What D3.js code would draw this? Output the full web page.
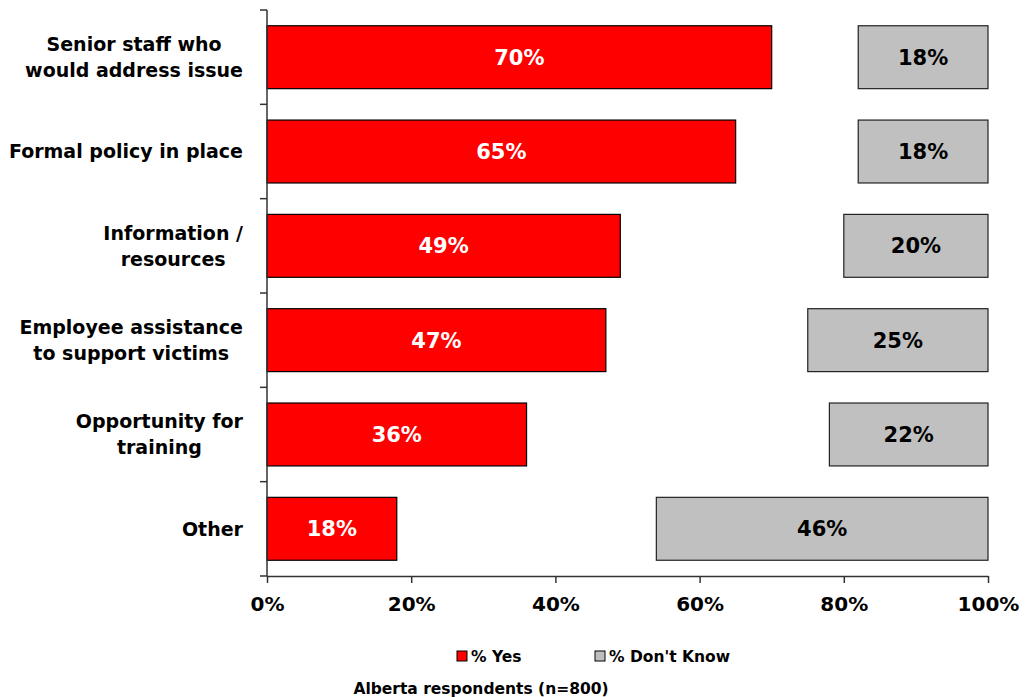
<!DOCTYPE html>
<html><head><meta charset="utf-8">
<script src="https://cdn.jsdelivr.net/npm/d3@7"></script>
<style>body{margin:0;background:#fff;}svg{display:block;}</style>
</head><body>
<svg id="c" width="1025" height="697"></svg>
<script>
const categories = [["Senior staff who","would address issue"],["Formal policy in place"],["Information /","resources"],["Employee assistance","to support victims"],["Opportunity for","training"],["Other"]];
const yesValues = [70, 65, 49, 47, 36, 18];
const dkValues = [18, 18, 20, 25, 22, 46];
const xTicks = [0, 20, 40, 60, 80, 100];
const seriesNames = ["% Yes", "% Don't Know"];
const note = "Alberta respondents (n=800)";

const font = "'DejaVu Sans', Verdana, sans-serif";
const svg = d3.select("#c");
const x = d3.scaleLinear().domain([0,100]).range([267,988]);
const y = d3.scaleBand().domain(d3.range(categories.length)).range([10,576]).paddingInner(0.333).paddingOuter(0.167);

// bars
const g = svg.append("g");
g.selectAll("rect.yes").data(yesValues).join("rect")
  .attr("x", x(0)).attr("y",(d,i)=>y(i)).attr("width",d=>x(d)-x(0)).attr("height",y.bandwidth())
  .attr("fill","#ff0000").attr("stroke","#000").attr("stroke-width",1.2);
g.selectAll("rect.dk").data(dkValues).join("rect")
  .attr("x", d=>x(100-d)).attr("y",(d,i)=>y(i)).attr("width",d=>x(100)-x(100-d)).attr("height",y.bandwidth())
  .attr("fill","#c0c0c0").attr("stroke","#222").attr("stroke-width",1.2);

g.selectAll("text.yl").data(yesValues).join("text")
  .attr("x",d=>(x(0)+x(d))/2).attr("y",(d,i)=>y(i)+y.bandwidth()/2).attr("dy","0.36em")
  .attr("text-anchor","middle").attr("fill","#fff").attr("font-family",font).attr("font-weight","bold").attr("font-size",21)
  .text(d=>d+"%");
g.selectAll("text.dl").data(dkValues).join("text")
  .attr("x",d=>(x(100-d)+x(100))/2).attr("y",(d,i)=>y(i)+y.bandwidth()/2).attr("dy","0.36em")
  .attr("text-anchor","middle").attr("fill","#000").attr("font-family",font).attr("font-weight","bold").attr("font-size",21)
  .text(d=>d+"%");

// y axis
const axCol = "#333";
svg.append("line").attr("x1",267).attr("x2",267).attr("y1",10).attr("y2",576).attr("stroke",axCol).attr("stroke-width",1.5);
d3.range(categories.length+1).forEach(i=>{
  const yy = 10 + i*(566/categories.length);
  svg.append("line").attr("x1",260).attr("x2",267).attr("y1",yy).attr("y2",yy).attr("stroke",axCol).attr("stroke-width",1.5);
});
// category labels: each block centred, block right edge at 243
categories.forEach((lines,i)=>{
  const cy = y(i)+y.bandwidth()/2;
  const t = svg.append("text").attr("text-anchor","middle").attr("font-family",font).attr("font-weight","bold").attr("font-size",19).attr("fill","#000");
  const lh = 26;
  const spans = lines.map((l,j)=>t.append("tspan").attr("y",cy + (j-(lines.length-1)/2)*lh).attr("dy","0.36em").text(l));
  const maxW = d3.max(spans, s=>s.node().getComputedTextLength());
  spans.forEach(s=>s.attr("x",243 - maxW/2));
});

// x axis
const xAxis = d3.axisBottom(x).tickValues(xTicks).tickFormat(d=>d+"%").tickSize(7).tickSizeOuter(0);
const xa = svg.append("g").attr("transform","translate(0,576)").call(xAxis);
xa.select(".domain").attr("stroke",axCol).attr("stroke-width",1.5);
xa.selectAll(".tick line").attr("stroke",axCol).attr("stroke-width",1.5);
xa.selectAll(".tick text").attr("font-family",font).attr("font-weight","bold").attr("font-size",20).attr("fill","#000").attr("y",21);

// legend
const leg = [{name:seriesNames[0],fill:"#ff0000",x:457},{name:seriesNames[1],fill:"#c0c0c0",x:595}];
leg.forEach(l=>{
  svg.append("rect").attr("x",l.x).attr("y",651).attr("width",10).attr("height",10).attr("fill",l.fill).attr("stroke","#000").attr("stroke-width",1);
  svg.append("text").attr("x",l.x+14).attr("y",656).attr("dy","0.36em").attr("font-family",font).attr("font-weight","bold").attr("font-size",15.5).attr("fill","#000").text(l.name);
});
svg.append("text").attr("x",481).attr("y",688).attr("dy","0.36em").attr("text-anchor","middle").attr("font-family",font).attr("font-weight","bold").attr("font-size",15.5).attr("fill","#000").text(note);
</script>
</body></html>
